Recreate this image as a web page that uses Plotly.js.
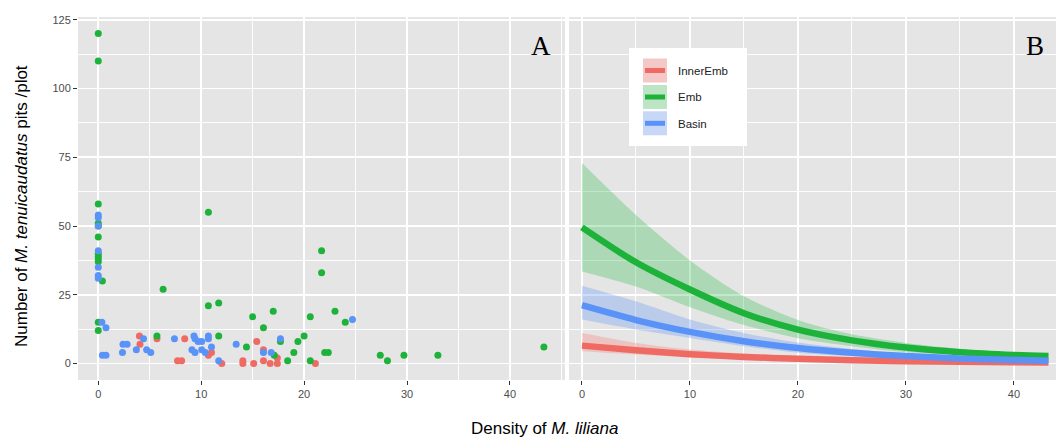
<!DOCTYPE html>
<html><head><meta charset="utf-8">
<script src="https://cdn.plot.ly/plotly-3.0.1.min.js"></script>
<style>html,body{margin:0;padding:0;background:#fff}</style>
</head><body><div id="chart" style="width:1056px;height:441px"></div>
<script>
// ---------- data ----------
const groups = ["InnerEmb", "Emb", "Basin"];
const colors = {InnerEmb: "#F06A64", Emb: "#1DB33A", Basin: "#5A93F8"};
const bandColors = {InnerEmb: "rgba(248,118,109,0.30)", Emb: "rgba(20,180,50,0.27)", Basin: "rgba(90,147,248,0.30)"};
const keyFill = {InnerEmb: "#F3C8C6", Emb: "#BEE4C6", Basin: "#C8D7F6"};

// Panel A: observed points
const innerX = [4.0, 4.05, 5.7, 8.4, 7.7, 8.1, 10.7, 11.0, 12.0, 15.4, 14.05, 14.05, 15.1, 16.05, 16.05, 16.7, 17.4, 17.4, 21.1];
const innerY = [10, 7, 9, 9, 1, 1, 3, 4, 0, 8, 1, 0, 0, 5, 1, 0, 2, 0, 0];

const embX = [0, 0, 0, 0, 0, 0, 0, 0, 0, 0, 0.4, 0, 0,
              5.7, 6.3, 10.7, 10.7, 11.7, 11.7, 14.4, 15.0, 16.05, 17.0, 17.7, 17.1, 18.4, 19.0, 19.4, 20.0,
              20.6, 20.6, 21.7, 21.7, 22.0, 22.35, 23.0, 24.0, 27.4, 28.1, 29.7, 33.0, 43.3];
const embY = [120, 110, 58, 51, 50, 46, 40, 39, 38, 37, 30, 15, 12,
              10, 27, 55, 21, 22, 10, 6, 17, 13, 19, 8, 3, 1, 4, 8, 10,
              17, 1, 41, 33, 4, 4, 19, 15, 3, 1, 3, 3, 6];

const basinX = [0, 0, 0, 0, 0, 0, 0, 0.35, 0.75, 0.4, 0.75,
                2.4, 2.8, 2.35, 3.7, 4.4, 4.7, 5.1, 7.4, 9.3, 9.4, 9.7, 10.05, 10.7, 10.7, 11.0,
                9.1, 9.4, 10.05, 10.4, 11.7, 13.4, 16.05, 16.8, 17.7, 24.7];
const basinY = [54, 53, 50, 41, 35, 32, 31, 15, 13, 3, 3,
                7, 7, 4, 5, 9, 5, 4, 9, 10, 9, 8, 8, 10, 9, 6,
                5, 4, 5, 4, 1, 7, 4, 4, 9, 16];

// Panel B: fitted curves and confidence bands
const fitX = [0, 5, 10, 15, 20, 25, 30, 35, 40, 43.2];
const innerFit = [6.5, 4.8, 3.4, 2.4, 1.7, 1.2, 0.85, 0.6, 0.45, 0.35];
const innerLo  = [4.5, 3.3, 2.3, 1.6, 1.1, 0.7, 0.45, 0.3, 0.2, 0.15];
const innerHi  = [11.1, 7.5, 5.1, 3.6, 2.7, 2.0, 1.4, 1.0, 0.8, 0.7];
const embFit = [49.5, 36.8, 26.9, 18.3, 12.3, 8.4, 5.8, 4.1, 3.1, 2.7];
const embLo  = [33.5, 28, 20.5, 14, 9.2, 6.3, 4.2, 3.3, 2.4, 1.9];
const embHi  = [72.9, 54, 37.5, 24.5, 15.8, 10.6, 7.5, 5.4, 4.1, 3.6];
const basinFit = [21.2, 15.8, 11.5, 8.1, 5.6, 3.9, 2.7, 1.85, 1.3, 1.0];
const basinLo  = [16, 12.4, 9.3, 6.3, 3.9, 2.6, 1.7, 1.1, 0.7, 0.5];
const basinHi  = [28.3, 22.6, 16, 11.1, 7.6, 5.3, 3.7, 2.6, 1.9, 1.6];

const xTicks = [0, 10, 20, 30, 40];
const yTicks = [0, 25, 50, 75, 100, 125];

// ---------- traces ----------
const pts = {InnerEmb: [innerX, innerY], Emb: [embX, embY], Basin: [basinX, basinY]};
const fits = {InnerEmb: [innerFit, innerLo, innerHi], Emb: [embFit, embLo, embHi], Basin: [basinFit, basinLo, basinHi]};
const traces = [];
groups.forEach(g => {
  traces.push({type: "scatter", mode: "markers", x: pts[g][0], y: pts[g][1], xaxis: "x", yaxis: "y",
    marker: {color: colors[g], size: 7, line: {width: 0}}, showlegend: false, hoverinfo: "skip"});
});
const sm = 0.8;
groups.forEach(g => {
  traces.push({type: "scatter", mode: "lines", x: fitX, y: fits[g][1], xaxis: "x2", yaxis: "y2",
    line: {width: 0, shape: "spline", smoothing: sm, color: bandColors[g]}, showlegend: false, hoverinfo: "skip"});
  traces.push({type: "scatter", mode: "lines", x: fitX, y: fits[g][2], xaxis: "x2", yaxis: "y2",
    fill: "tonexty", fillcolor: bandColors[g],
    line: {width: 0, shape: "spline", smoothing: sm, color: bandColors[g]}, showlegend: false, hoverinfo: "skip"});
});
groups.forEach(g => {
  traces.push({type: "scatter", mode: "lines", x: fitX, y: fits[g][0], xaxis: "x2", yaxis: "y2",
    line: {width: 6.5, shape: "spline", smoothing: sm, color: colors[g]}, showlegend: false, hoverinfo: "skip"});
});

// ---------- layout helpers ----------
const L = 78, T = 17, W = 978, H = 363;
const PX = px => (px - L) / W;
const PY = py => (T + H - py) / H;

const font = "Liberation Sans, Arial, sans-serif";
const tickFont = {family: font, size: 11, color: "#4d4d4d"};
function xAx(domain, range, anchor) {
  return {domain, range, anchor, tickmode: "array", tickvals: xTicks, ticktext: xTicks.map(String),
    showgrid: true, gridcolor: "#ffffff", gridwidth: 1.7, zeroline: false, showline: false,
    ticks: "outside", ticklen: 4, tickwidth: 1, tickcolor: "#333333", tickfont: tickFont,
    minor: {dtick: 5, tick0: 0, showgrid: true, gridcolor: "#ffffff", gridwidth: 0.9, ticks: ""}};
}
const yAx = {range: [-6, 126], tickmode: "array", tickvals: yTicks, ticktext: yTicks.map(String),
  showgrid: true, gridcolor: "#ffffff", gridwidth: 1.7, zeroline: false, showline: false,
  ticks: "outside", ticklen: 4, tickwidth: 1, tickcolor: "#333333", tickfont: tickFont,
  minor: {dtick: 12.5, tick0: 0, showgrid: true, gridcolor: "#ffffff", gridwidth: 0.9, ticks: ""}, anchor: "x"};
const yAx2 = Object.assign({}, yAx, {anchor: "x2", showticklabels: false, ticks: "", matches: "y"});

// legend drawn as shapes
const shapes = [{type: "rect", xref: "paper", yref: "paper", x0: PX(629), x1: PX(747), y0: PY(48), y1: PY(146),
  fillcolor: "#ffffff", line: {width: 0}, layer: "above"}];
const annotations = [];
const keyRows = [70.5, 97, 123.3];
groups.forEach((g, i) => {
  const cy = keyRows[i];
  shapes.push({type: "rect", xref: "paper", yref: "paper", x0: PX(643), x1: PX(667), y0: PY(cy - 12), y1: PY(cy + 12),
    fillcolor: keyFill[g], line: {width: 0}, layer: "above"});
  shapes.push({type: "line", xref: "paper", yref: "paper", x0: PX(645), x1: PX(665), y0: PY(cy), y1: PY(cy),
    line: {color: colors[g], width: 5}, layer: "above"});
  annotations.push({xref: "paper", yref: "paper", x: PX(676), y: PY(cy + 0.5), xanchor: "left", yanchor: "middle",
    text: g, showarrow: false, font: {family: font, size: 11.5, color: "#222222"}});
});
annotations.push({xref: "paper", yref: "paper", x: PX(541), y: PY(46), xanchor: "center", yanchor: "middle",
  text: "A", showarrow: false, font: {family: "Liberation Serif, Times New Roman, serif", size: 27, color: "#000"}});
annotations.push({xref: "paper", yref: "paper", x: PX(1035), y: PY(46), xanchor: "center", yanchor: "middle",
  text: "B", showarrow: false, font: {family: "Liberation Serif, Times New Roman, serif", size: 27, color: "#000"}});
annotations.push({xref: "paper", yref: "paper", x: PX(544), y: PY(428), xanchor: "center", yanchor: "middle",
  text: "Density of <i>M. liliana</i>", showarrow: false, font: {family: font, size: 17, color: "#000"}});
annotations.push({xref: "paper", yref: "paper", x: PX(21), y: PY(206), xanchor: "center", yanchor: "middle",
  textangle: -90, text: "Number of <i>M. tenuicaudatus</i> pits /plot", showarrow: false,
  font: {family: font, size: 17, color: "#000"}});

const layout = {
  width: 1056, height: 441, margin: {l: L, r: 0, t: T, b: 441 - T - H, pad: 0},
  paper_bgcolor: "#ffffff", plot_bgcolor: "#E5E5E5", showlegend: false,
  xaxis: xAx([0, 487 / W], [-1.97, 45.35], "y"),
  xaxis2: xAx([491 / W, 1], [-1.2, 43.9], "y2"),
  yaxis: yAx, yaxis2: yAx2,
  shapes, annotations, font: {family: font}
};
Plotly.newPlot("chart", traces, layout, {displayModeBar: false, staticPlot: true});
</script></body></html>
